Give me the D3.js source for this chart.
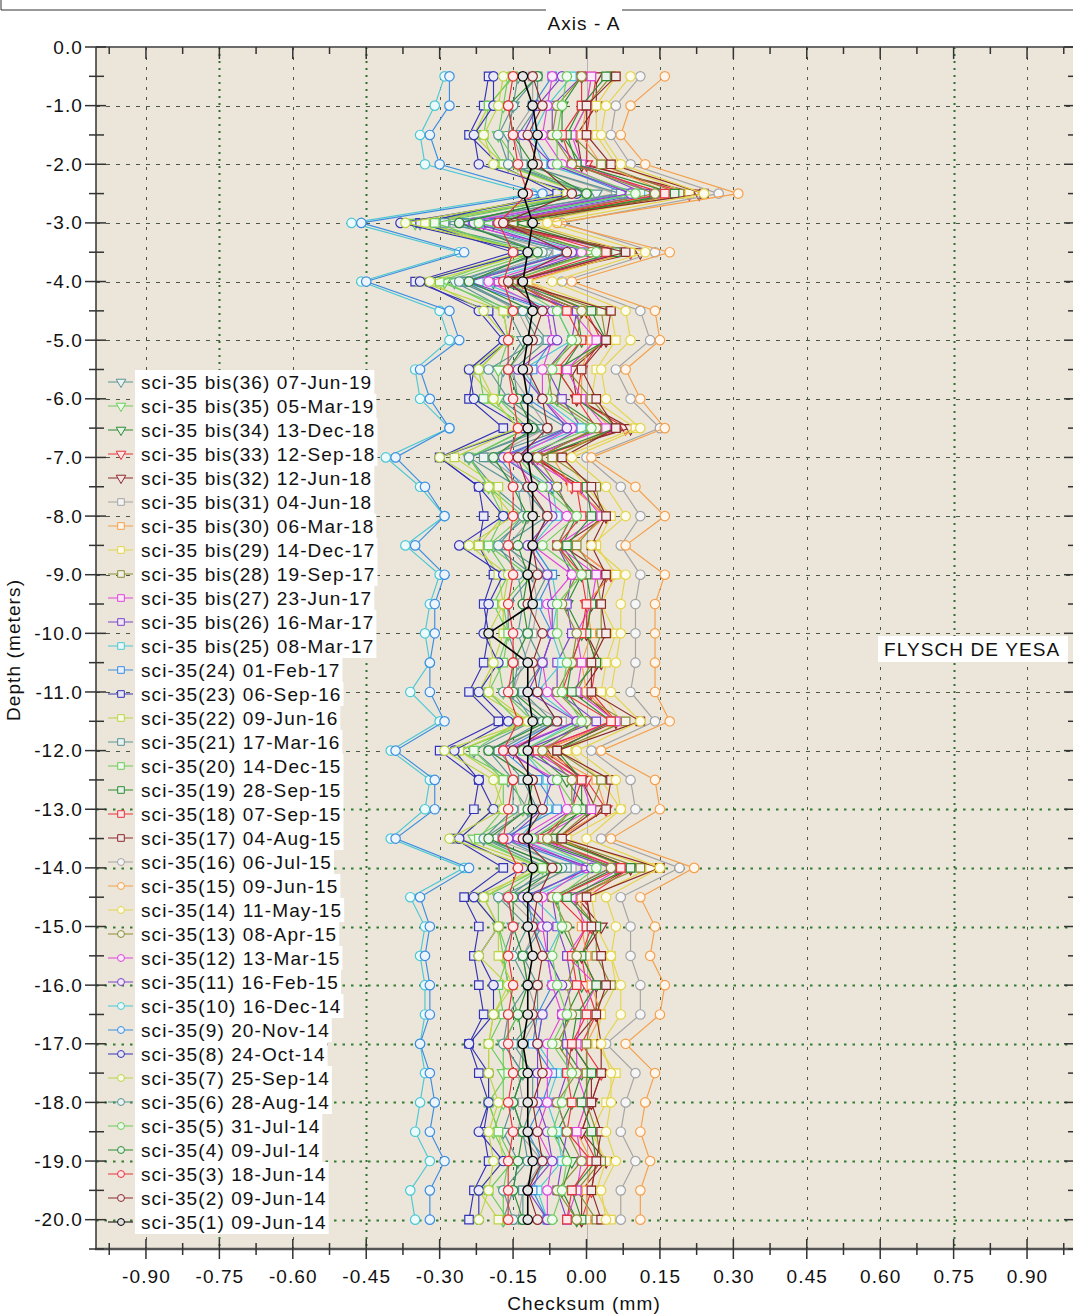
<!DOCTYPE html>
<html><head><meta charset="utf-8">
<script src="https://cdn.jsdelivr.net/npm/d3@7"></script>
<style>
body{margin:0;background:#fff;}
svg{display:block;font-family:"Liberation Sans",Arial,Helvetica,sans-serif;}
</style>
</head><body>
<svg id="chart" width="1073" height="1315"></svg>
<script>
// ---------------- DATA ----------------
const depths = [-0.5,-1,-1.5,-2,-2.5,-3,-3.5,-4,-4.5,-5,-5.5,-6,-6.5,-7,-7.5,-8,-8.5,-9,-9.5,-10,-10.5,-11,-11.5,-12,-12.5,-13,-13.5,-14,-14.5,-15,-15.5,-16,-16.5,-17,-17.5,-18,-18.5,-19,-19.5,-20];

const seriesLabels = ["sci-35(1) 09-Jun-14","sci-35(2) 09-Jun-14","sci-35(3) 18-Jun-14","sci-35(4) 09-Jul-14","sci-35(5) 31-Jul-14","sci-35(6) 28-Aug-14","sci-35(7) 25-Sep-14","sci-35(8) 24-Oct-14","sci-35(9) 20-Nov-14","sci-35(10) 16-Dec-14","sci-35(11) 16-Feb-15","sci-35(12) 13-Mar-15","sci-35(13) 08-Apr-15","sci-35(14) 11-May-15","sci-35(15) 09-Jun-15","sci-35(16) 06-Jul-15","sci-35(17) 04-Aug-15","sci-35(18) 07-Sep-15","sci-35(19) 28-Sep-15","sci-35(20) 14-Dec-15","sci-35(21) 17-Mar-16","sci-35(22) 09-Jun-16","sci-35(23) 06-Sep-16","sci-35(24) 01-Feb-17","sci-35 bis(25) 08-Mar-17","sci-35 bis(26) 16-Mar-17","sci-35 bis(27) 23-Jun-17","sci-35 bis(28) 19-Sep-17","sci-35 bis(29) 14-Dec-17","sci-35 bis(30) 06-Mar-18","sci-35 bis(31) 04-Jun-18","sci-35 bis(32) 12-Jun-18","sci-35 bis(33) 12-Sep-18","sci-35 bis(34) 13-Dec-18","sci-35 bis(35) 05-Mar-19","sci-35 bis(36) 07-Jun-19"];

const xTickValues = [-0.90,-0.75,-0.60,-0.45,-0.30,-0.15,0.00,0.15,0.30,0.45,0.60,0.75,0.90];
const xMinorTickValues = [-0.975,-0.825,-0.675,-0.525,-0.375,-0.225,-0.075,0.075,0.225,0.375,0.525,0.675,0.825,0.975];
const yTickValues = [0,-1,-2,-3,-4,-5,-6,-7,-8,-9,-10,-11,-12,-13,-14,-15,-16,-17,-18,-19,-20];
const yMinorTickValues = [-0.5,-1.5,-2.5,-3.5,-4.5,-5.5,-6.5,-7.5,-8.5,-9.5,-10.5,-11.5,-12.5,-13.5,-14.5,-15.5,-16.5,-17.5,-18.5,-19.5,-20.5];

const s01 = [-0.13,-0.11,-0.10,-0.11,-0.13,-0.11,-0.12,-0.13,-0.11,-0.12,-0.13,-0.12,-0.12,-0.12,-0.11,-0.11,-0.11,-0.12,-0.11,-0.20,-0.12,-0.12,-0.11,-0.12,-0.12,-0.11,-0.12,-0.11,-0.12,-0.12,-0.11,-0.12,-0.12,-0.13,-0.12,-0.12,-0.12,-0.11,-0.12,-0.12];
const s02 = [-0.11,-0.09,-0.12,-0.10,-0.03,-0.17,-0.04,-0.16,-0.09,-0.11,-0.12,-0.09,-0.08,-0.14,-0.12,-0.08,-0.11,-0.10,-0.12,-0.09,-0.11,-0.10,-0.06,-0.15,-0.11,-0.09,-0.13,-0.07,-0.10,-0.11,-0.09,-0.10,-0.11,-0.10,-0.09,-0.11,-0.10,-0.09,-0.12,-0.10];
const s03 = [-0.15,-0.16,-0.15,-0.14,-0.12,-0.18,-0.15,-0.17,-0.15,-0.16,-0.16,-0.15,-0.14,-0.16,-0.15,-0.15,-0.16,-0.15,-0.16,-0.15,-0.15,-0.16,-0.14,-0.17,-0.15,-0.16,-0.17,-0.14,-0.16,-0.15,-0.16,-0.15,-0.16,-0.16,-0.15,-0.16,-0.15,-0.16,-0.16,-0.16];
const s04 = [-0.10,-0.16,-0.15,-0.11,0.00,-0.26,-0.10,-0.24,-0.11,-0.12,-0.16,-0.14,-0.11,-0.19,-0.15,-0.12,-0.14,-0.12,-0.13,-0.12,-0.15,-0.15,-0.08,-0.20,-0.11,-0.12,-0.20,-0.06,-0.15,-0.15,-0.13,-0.12,-0.14,-0.13,-0.13,-0.15,-0.13,-0.14,-0.15,-0.13];
const s05 = [-0.04,-0.05,-0.06,-0.06,0.10,-0.22,0.02,-0.16,-0.06,-0.03,-0.07,-0.08,0.01,-0.14,-0.09,-0.02,-0.09,-0.01,-0.06,-0.06,-0.04,-0.05,-0.01,-0.13,-0.06,-0.02,-0.11,0.02,-0.06,-0.05,-0.07,-0.06,-0.04,-0.07,-0.03,-0.05,-0.07,-0.04,-0.05,-0.07];
const s06 = [-0.10,-0.15,-0.18,-0.16,0.00,-0.26,-0.09,-0.26,-0.13,-0.10,-0.20,-0.16,-0.08,-0.24,-0.14,-0.13,-0.18,-0.14,-0.13,-0.14,-0.12,-0.17,-0.09,-0.20,-0.15,-0.15,-0.21,-0.05,-0.18,-0.12,-0.15,-0.12,-0.16,-0.17,-0.13,-0.15,-0.13,-0.12,-0.17,-0.15];
const s07 = [-0.17,-0.18,-0.21,-0.19,-0.04,-0.37,-0.11,-0.32,-0.21,-0.16,-0.22,-0.19,-0.14,-0.30,-0.20,-0.15,-0.24,-0.16,-0.17,-0.20,-0.19,-0.20,-0.12,-0.29,-0.19,-0.17,-0.28,-0.11,-0.21,-0.18,-0.22,-0.16,-0.19,-0.20,-0.20,-0.18,-0.20,-0.19,-0.20,-0.22];
const s08 = [-0.19,-0.19,-0.23,-0.22,-0.02,-0.38,-0.12,-0.34,-0.22,-0.17,-0.24,-0.23,-0.13,-0.30,-0.22,-0.17,-0.26,-0.17,-0.20,-0.21,-0.18,-0.22,-0.16,-0.27,-0.22,-0.19,-0.26,-0.13,-0.23,-0.18,-0.22,-0.19,-0.19,-0.24,-0.20,-0.20,-0.22,-0.17,-0.22,-0.22];
const s09 = [-0.28,-0.28,-0.32,-0.30,-0.09,-0.46,-0.25,-0.45,-0.28,-0.26,-0.34,-0.32,-0.28,-0.39,-0.33,-0.29,-0.35,-0.29,-0.31,-0.31,-0.32,-0.32,-0.29,-0.39,-0.31,-0.31,-0.39,-0.24,-0.34,-0.32,-0.33,-0.32,-0.32,-0.34,-0.32,-0.31,-0.32,-0.29,-0.32,-0.32];
const s10 = [-0.29,-0.31,-0.34,-0.33,-0.11,-0.48,-0.26,-0.46,-0.30,-0.28,-0.35,-0.34,-0.28,-0.41,-0.34,-0.29,-0.37,-0.30,-0.32,-0.33,-0.32,-0.36,-0.30,-0.40,-0.32,-0.33,-0.40,-0.25,-0.36,-0.33,-0.34,-0.33,-0.33,-0.34,-0.33,-0.34,-0.35,-0.32,-0.36,-0.35];
const s11 = [-0.05,-0.10,-0.13,-0.07,0.09,-0.23,-0.03,-0.24,-0.07,-0.06,-0.14,-0.09,-0.04,-0.17,-0.08,-0.07,-0.12,-0.08,-0.07,-0.07,-0.09,-0.12,-0.02,-0.16,-0.07,-0.09,-0.16,0.01,-0.13,-0.08,-0.08,-0.05,-0.09,-0.10,-0.10,-0.10,-0.08,-0.07,-0.12,-0.08];
const s12 = [-0.07,-0.08,-0.09,-0.05,0.09,-0.26,-0.01,-0.20,-0.08,-0.07,-0.09,-0.09,-0.03,-0.15,-0.11,-0.04,-0.11,-0.03,-0.08,-0.07,-0.09,-0.08,-0.02,-0.17,-0.06,-0.04,-0.14,0.00,-0.09,-0.09,-0.08,-0.07,-0.05,-0.08,-0.08,-0.08,-0.10,-0.07,-0.08,-0.08];
const s13 = [-0.01,-0.06,-0.07,-0.03,0.14,-0.17,0.01,-0.16,-0.01,-0.02,-0.08,-0.07,0.02,-0.10,-0.06,-0.03,-0.06,-0.02,-0.05,-0.02,-0.03,-0.06,0.00,-0.09,-0.03,-0.03,-0.08,0.05,-0.07,-0.04,-0.02,-0.04,-0.03,-0.06,-0.02,-0.06,-0.04,-0.01,-0.06,-0.02];
const s14 = [0.09,0.04,0.03,0.07,0.24,-0.08,0.12,-0.07,0.08,0.09,0.03,0.04,0.11,-0.03,0.04,0.08,0.01,0.08,0.07,0.07,0.06,0.05,0.11,-0.02,0.06,0.07,0.00,0.15,0.04,0.06,0.05,0.07,0.07,0.03,0.05,0.05,0.04,0.06,0.03,0.04];
const s15 = [0.16,0.09,0.07,0.12,0.31,-0.06,0.17,-0.03,0.14,0.15,0.08,0.11,0.16,0.01,0.10,0.16,0.08,0.16,0.14,0.14,0.14,0.14,0.17,0.03,0.14,0.15,0.05,0.22,0.11,0.14,0.13,0.16,0.15,0.08,0.14,0.12,0.11,0.13,0.11,0.11];
const s16 = [0.11,0.06,0.05,0.09,0.27,-0.05,0.14,-0.05,0.11,0.13,0.06,0.09,0.15,0.00,0.07,0.11,0.07,0.11,0.10,0.10,0.10,0.09,0.14,0.01,0.09,0.10,0.03,0.19,0.07,0.09,0.09,0.11,0.11,0.04,0.10,0.08,0.07,0.10,0.07,0.07];
const s17 = [0.06,0.00,0.00,0.05,0.24,-0.18,0.08,-0.15,0.05,0.04,-0.01,0.02,0.06,-0.05,0.01,0.04,0.01,0.04,0.03,0.04,0.01,0.01,0.11,-0.06,0.05,0.04,-0.05,0.15,0.00,0.01,0.03,0.04,0.02,0.03,0.03,0.01,0.03,0.02,0.01,0.03];
const s18 = [-0.01,-0.01,-0.05,-0.03,0.16,-0.17,0.04,-0.15,-0.04,-0.01,-0.06,-0.02,0.02,-0.10,-0.02,-0.01,-0.06,-0.01,0.00,-0.01,-0.03,-0.05,0.05,-0.10,-0.01,-0.03,-0.09,0.07,-0.06,0.00,-0.03,-0.02,0.00,-0.03,-0.04,-0.03,-0.04,0.01,-0.03,-0.04];
const s19 = [0.04,-0.01,-0.04,-0.02,0.18,-0.15,0.06,-0.15,0.01,0.04,-0.06,-0.02,0.06,-0.10,0.00,0.01,-0.04,0.00,0.01,0.00,0.02,-0.03,0.05,-0.06,-0.01,-0.01,-0.07,0.09,-0.04,0.02,-0.01,0.02,-0.02,-0.03,0.01,-0.01,0.01,0.02,-0.03,-0.01];
const s20 = [-0.15,-0.20,-0.21,-0.17,0.00,-0.31,-0.13,-0.30,-0.15,-0.16,-0.22,-0.21,-0.12,-0.24,-0.20,-0.17,-0.20,-0.16,-0.19,-0.16,-0.17,-0.20,-0.14,-0.23,-0.17,-0.17,-0.22,-0.09,-0.21,-0.18,-0.16,-0.18,-0.17,-0.20,-0.16,-0.20,-0.18,-0.15,-0.20,-0.16];
const s21 = [-0.10,-0.10,-0.14,-0.13,0.07,-0.29,-0.03,-0.25,-0.13,-0.08,-0.15,-0.14,-0.04,-0.21,-0.13,-0.08,-0.17,-0.08,-0.11,-0.12,-0.09,-0.13,-0.07,-0.18,-0.13,-0.10,-0.17,-0.04,-0.14,-0.09,-0.13,-0.10,-0.10,-0.15,-0.11,-0.11,-0.13,-0.08,-0.13,-0.13];
const s22 = [-0.15,-0.20,-0.23,-0.17,-0.01,-0.33,-0.13,-0.34,-0.17,-0.16,-0.24,-0.19,-0.14,-0.27,-0.18,-0.17,-0.22,-0.18,-0.17,-0.17,-0.19,-0.22,-0.12,-0.26,-0.17,-0.19,-0.26,-0.09,-0.23,-0.18,-0.18,-0.15,-0.19,-0.20,-0.20,-0.20,-0.18,-0.17,-0.22,-0.18];
const s23 = [-0.20,-0.21,-0.24,-0.18,-0.06,-0.34,-0.15,-0.35,-0.20,-0.16,-0.23,-0.24,-0.17,-0.30,-0.22,-0.21,-0.22,-0.19,-0.21,-0.20,-0.21,-0.24,-0.18,-0.30,-0.22,-0.23,-0.27,-0.17,-0.25,-0.22,-0.23,-0.22,-0.21,-0.24,-0.22,-0.20,-0.21,-0.20,-0.23,-0.24];
const s24 = [-0.07,-0.11,-0.11,-0.07,0.08,-0.25,-0.04,-0.25,-0.08,-0.07,-0.11,-0.12,-0.03,-0.18,-0.13,-0.08,-0.11,-0.07,-0.10,-0.07,-0.09,-0.10,-0.06,-0.17,-0.10,-0.06,-0.17,0.00,-0.12,-0.11,-0.08,-0.07,-0.10,-0.11,-0.07,-0.09,-0.12,-0.09,-0.11,-0.08];
const s25 = [-0.03,-0.08,-0.11,-0.09,0.11,-0.22,-0.01,-0.22,-0.06,-0.03,-0.13,-0.09,-0.01,-0.17,-0.07,-0.06,-0.11,-0.07,-0.06,-0.07,-0.05,-0.10,-0.02,-0.13,-0.08,-0.08,-0.14,0.02,-0.11,-0.05,-0.08,-0.05,-0.09,-0.10,-0.06,-0.08,-0.06,-0.05,-0.10,-0.08];
const s26 = [-0.01,-0.07,-0.07,-0.02,0.12,-0.20,0.00,-0.18,-0.02,-0.03,-0.08,-0.05,-0.01,-0.12,-0.06,-0.03,-0.06,-0.03,-0.04,-0.03,-0.06,-0.06,0.02,-0.13,-0.02,-0.03,-0.12,0.05,-0.07,-0.06,-0.04,-0.03,-0.05,-0.04,-0.04,-0.06,-0.04,-0.05,-0.06,-0.04];
const s27 = [0.01,0.00,-0.03,-0.01,0.14,-0.19,0.07,-0.14,-0.03,0.02,-0.04,-0.01,0.04,-0.12,-0.02,0.03,-0.06,0.02,0.01,-0.02,-0.01,-0.02,0.06,-0.11,-0.01,0.01,-0.10,0.07,-0.03,0.00,-0.04,0.02,-0.01,-0.02,-0.02,0.00,-0.02,-0.01,-0.02,-0.04];
const s28 = [0.05,0.00,-0.03,0.03,0.19,-0.13,0.07,-0.14,0.03,0.04,-0.04,0.01,0.06,-0.07,0.02,0.03,-0.02,0.02,0.03,0.03,0.01,-0.02,0.08,-0.06,0.03,0.01,-0.06,0.11,-0.03,0.02,0.02,0.05,0.01,0.00,0.00,0.00,0.02,0.03,-0.02,0.02];
const s29 = [0.06,0.02,0.02,0.06,0.21,-0.12,0.09,-0.12,0.05,0.06,0.02,0.01,0.10,-0.05,0.00,0.05,0.02,0.06,0.03,0.06,0.04,0.03,0.07,-0.04,0.03,0.07,-0.04,0.13,0.01,0.02,0.05,0.06,0.03,0.02,0.06,0.04,0.01,0.04,0.02,0.05];
const s30 = [0.01,0.00,-0.01,0.03,0.17,-0.18,0.07,-0.12,0.00,0.01,-0.01,-0.01,0.05,-0.07,-0.03,0.04,-0.03,0.05,0.00,0.01,-0.01,0.00,0.06,-0.09,0.02,0.04,-0.06,0.08,-0.01,-0.01,0.00,0.01,0.03,0.00,0.00,0.00,-0.02,0.01,0.00,0.00];
const s31 = [-0.11,-0.11,-0.15,-0.13,0.06,-0.27,-0.06,-0.25,-0.14,-0.11,-0.16,-0.12,-0.08,-0.20,-0.12,-0.11,-0.16,-0.11,-0.10,-0.11,-0.13,-0.15,-0.05,-0.20,-0.11,-0.13,-0.19,-0.03,-0.16,-0.10,-0.13,-0.12,-0.10,-0.13,-0.14,-0.13,-0.14,-0.09,-0.13,-0.14];
const s32 = [0.02,0.02,-0.02,-0.01,0.23,-0.21,0.11,-0.16,-0.01,0.04,-0.03,-0.02,0.09,-0.11,-0.01,0.04,-0.05,0.04,0.01,0.00,0.03,-0.01,0.06,-0.07,-0.01,0.02,-0.06,0.09,-0.02,0.03,-0.01,0.02,0.02,-0.03,0.01,0.01,-0.01,0.04,-0.01,-0.01];
const s33 = [0.02,0.01,0.00,0.00,0.21,-0.22,0.09,-0.13,0.00,0.03,-0.01,-0.02,0.08,-0.10,-0.03,0.04,-0.03,0.05,0.00,0.00,0.02,0.01,0.06,-0.09,0.00,0.04,-0.06,0.09,0.00,0.01,-0.01,0.00,0.02,-0.01,0.03,0.01,-0.01,0.02,0.01,-0.01];
const s34 = [-0.01,-0.05,-0.05,-0.01,0.14,-0.19,0.02,-0.19,-0.02,-0.01,-0.05,-0.06,0.03,-0.12,-0.07,-0.02,-0.05,-0.01,-0.04,-0.01,-0.03,-0.04,0.00,-0.11,-0.04,0.00,-0.11,0.06,-0.06,-0.05,-0.02,-0.01,-0.04,-0.05,-0.01,-0.03,-0.06,-0.03,-0.05,-0.02];
const s35 = [-0.16,-0.17,-0.18,-0.14,0.00,-0.35,-0.10,-0.29,-0.17,-0.16,-0.18,-0.18,-0.12,-0.24,-0.20,-0.13,-0.20,-0.12,-0.17,-0.16,-0.18,-0.17,-0.11,-0.26,-0.15,-0.13,-0.23,-0.09,-0.18,-0.18,-0.17,-0.16,-0.14,-0.17,-0.17,-0.17,-0.19,-0.16,-0.17,-0.17];
const s36 = [-0.14,-0.15,-0.16,-0.16,0.02,-0.34,-0.08,-0.27,-0.16,-0.13,-0.17,-0.18,-0.09,-0.24,-0.19,-0.12,-0.19,-0.11,-0.16,-0.16,-0.14,-0.15,-0.11,-0.23,-0.16,-0.12,-0.21,-0.08,-0.16,-0.15,-0.17,-0.16,-0.14,-0.17,-0.13,-0.15,-0.17,-0.14,-0.15,-0.17];

const seriesValues = [s01,s02,s03,s04,s05,s06,s07,s08,s09,s10,s11,s12,s13,s14,s15,s16,s17,s18,s19,s20,s21,s22,s23,s24,s25,s26,s27,s28,s29,s30,s31,s32,s33,s34,s35,s36];

// ---------------- STYLE ----------------
const cycleColors = ["#8b2a2a","#e8323c","#2e8b34","#6ccc5c","#5a9494","#bcd444","#3434b4","#3c8ee0","#4cc8d4","#7c44c8","#e044dc","#8c8c34","#e4d44c","#f4a04c","#a4a4a4"];
function colorOf(i){ return i===0 ? "#000000" : cycleColors[(i-1)%15]; }
function shapeOf(i){ return i<16 ? "circle" : (i<31 ? "square" : "triangle"); }

const W = 1073, H = 1315;
const plotL = 96, plotR = 1073, plotT = 47, plotB = 1249;
const x = d3.scaleLinear().domain([-1.0, 1.0]).range([97, 1076]);
const y = d3.scaleLinear().domain([0, -20.5]).range([47, 1249]);
const fmt2 = d => d3.format(".2f")(d).replace("\u2212","-");
const fmt1 = d => d3.format(".1f")(d).replace("\u2212","-");
const FS = "19px", LS = "1.1px";

const svg = d3.select("#chart");
svg.append("rect").attr("width",W).attr("height",H).attr("fill","#ffffff");

// group frame + title
svg.append("path").attr("d","M1,0V10H546M622,10H1073").attr("fill","none").attr("stroke","#333").attr("stroke-width",1);
svg.append("text").attr("x",584).attr("y",30).attr("text-anchor","middle")
  .style("font-size",FS).style("letter-spacing",LS).attr("fill","#111").text("Axis - A");

// plot background
svg.append("rect").attr("x",plotL).attr("y",plotT).attr("width",plotR-plotL).attr("height",plotB-plotT).attr("fill","#ece6da");

// clip
svg.append("defs").append("clipPath").attr("id","plotclip").append("rect")
  .attr("x",plotL).attr("y",plotT).attr("width",plotR-plotL).attr("height",plotB-plotT);

// grid
const grid = svg.append("g").attr("clip-path","url(#plotclip)");
const greenX = v => Math.abs(v+0.75)<1e-6 || Math.abs(v+0.45)<1e-6 || Math.abs(v-0.75)<1e-6;
grid.selectAll("line.gx").data(xTickValues.filter(v=>Math.abs(v)>1e-9)).join("line")
  .attr("x1",d=>Math.round(x(d))+0.5).attr("x2",d=>Math.round(x(d))+0.5).attr("y1",plotT).attr("y2",plotB)
  .attr("stroke",d=>greenX(d)?"#2f6e2f":"#4a5646")
  .attr("stroke-width",d=>greenX(d)?2:1)
  .attr("stroke-dasharray",d=>greenX(d)?"2,5":"3,7");
grid.append("line").attr("x1",Math.round(x(0))+0.5).attr("x2",Math.round(x(0))+0.5).attr("y1",plotT).attr("y2",plotB)
  .attr("stroke","#b4b4b4").attr("stroke-width",1);
grid.selectAll("line.gy").data(yTickValues.filter(v=>v<0)).join("line")
  .attr("x1",plotL).attr("x2",plotR).attr("y1",d=>Math.round(y(d))+0.5).attr("y2",d=>Math.round(y(d))+0.5)
  .attr("stroke",d=>d<=-13?"#2f7a2f":"#4a5646")
  .attr("stroke-width",d=>d<=-13?2:1)
  .attr("stroke-dasharray",d=>d<=-13?"2.5,6":"4,6");

// series
const symGen = {
  circle: d3.symbol().type(d3.symbolCircle).size(70),
  square: d3.symbol().type(d3.symbolSquare).size(72),
  triangle: d3.symbol().type(d3.symbolTriangle).size(62)
};
const symLeg = {
  circle: d3.symbol().type(d3.symbolCircle).size(38),
  square: d3.symbol().type(d3.symbolSquare).size(44),
  triangle: d3.symbol().type(d3.symbolTriangle).size(40)
};
const line = d3.line().x(d=>x(d.v)).y(d=>y(d.d));
const dataG = svg.append("g").attr("clip-path","url(#plotclip)");
for (let i = seriesValues.length-1; i >= 0; i--) {
  const vals = seriesValues[i];
  if (vals.length !== depths.length) console.warn("length mismatch", i+1, vals.length);
  const pts = depths.map((d,k)=>({d:d, v:vals[k]})).filter(p=>p.v!==undefined);
  const col = colorOf(i), shp = shapeOf(i);
  const fillCol = d3.interpolateRgb(col, "#ffffff")(0.9);
  const g = dataG.append("g");
  g.append("path").datum(pts).attr("d",line).attr("fill","none").attr("stroke",col).attr("stroke-width", i===0 ? 1.6 : 1.15);
  g.selectAll("path.m").data(pts).join("path").attr("class","m")
    .attr("d",symGen[shp])
    .attr("transform",p=>`translate(${x(p.v)},${y(p.d)})` + (shp==="triangle"?" rotate(180)":""))
    .attr("fill",fillCol).attr("stroke",col).attr("stroke-width",1.2);
}

// axes lines
svg.append("line").attr("x1",plotL).attr("x2",plotR).attr("y1",plotT).attr("y2",plotT).attr("stroke","#6a6a6a").attr("stroke-width",2);
svg.append("line").attr("x1",plotL-1).attr("x2",plotR).attr("y1",plotB).attr("y2",plotB).attr("stroke","#555").attr("stroke-width",2.5);
svg.append("line").attr("x1",plotL).attr("x2",plotL).attr("y1",plotT).attr("y2",plotB).attr("stroke","#333").attr("stroke-width",1.5);

// ticks (top: inward; bottom: crossing; left: crossing; right: inward)
const tk = svg.append("g").attr("stroke","#333").attr("stroke-width",1.5);
tk.selectAll("line.tt").data(xTickValues).join("line").attr("x1",d=>x(d)).attr("x2",d=>x(d)).attr("y1",plotT).attr("y2",plotT+12);
tk.selectAll("line.tm").data(xMinorTickValues).join("line").attr("x1",d=>x(d)).attr("x2",d=>x(d)).attr("y1",plotT).attr("y2",plotT+7);
tk.selectAll("line.bt").data(xTickValues).join("line").attr("x1",d=>x(d)).attr("x2",d=>x(d)).attr("y1",plotB-10).attr("y2",plotB+10);
tk.selectAll("line.bm").data(xMinorTickValues).join("line").attr("x1",d=>x(d)).attr("x2",d=>x(d)).attr("y1",plotB-6).attr("y2",plotB+6);
tk.selectAll("line.lt").data(yTickValues).join("line").attr("x1",plotL-11).attr("x2",plotL+10).attr("y1",d=>y(d)).attr("y2",d=>y(d));
tk.selectAll("line.lm").data(yMinorTickValues).join("line").attr("x1",plotL-7).attr("x2",plotL+8).attr("y1",d=>y(d)).attr("y2",d=>y(d));
tk.selectAll("line.rt").data(yTickValues).join("line").attr("x1",plotR-9).attr("x2",plotR).attr("y1",d=>y(d)).attr("y2",d=>y(d));
tk.selectAll("line.rm").data(yMinorTickValues).join("line").attr("x1",plotR-5).attr("x2",plotR).attr("y1",d=>y(d)).attr("y2",d=>y(d));

// axis labels via d3 axes
const xAx = svg.append("g").attr("transform",`translate(0,${plotB})`)
  .call(d3.axisBottom(x).tickValues(xTickValues).tickFormat(fmt2).tickSize(0).tickPadding(21));
xAx.select(".domain").remove();
xAx.selectAll("text").style("font-size",FS).style("letter-spacing",LS).attr("fill","#111").style("font-family","'Liberation Sans',Arial,sans-serif");
const yAx = svg.append("g").attr("transform",`translate(${plotL},0)`)
  .call(d3.axisLeft(y).tickValues(yTickValues).tickFormat(fmt1).tickSize(0).tickPadding(13));
yAx.select(".domain").remove();
yAx.selectAll("text").style("font-size",FS).style("letter-spacing",LS).attr("fill","#111").style("font-family","'Liberation Sans',Arial,sans-serif");

// axis titles
svg.append("text").attr("x",584).attr("y",1310).attr("text-anchor","middle")
  .style("font-size",FS).style("letter-spacing",LS).attr("fill","#111").text("Checksum (mm)");
svg.append("text").attr("transform","translate(20,650) rotate(-90)").attr("text-anchor","middle")
  .style("font-size",FS).style("letter-spacing",LS).attr("fill","#111").text("Depth (meters)");

// legend
const leg = svg.append("g");
for (let i = seriesValues.length-1; i >= 0; i--) {
  const r = seriesValues.length-1-i;
  const ly = 382 + 24*r;
  const col = colorOf(i), shp = shapeOf(i);
  const row = leg.append("g");
  const bg = row.append("rect").attr("x",135).attr("y",ly-12).attr("height",24).attr("fill","#ffffff");
  const t = row.append("text").attr("x",141).attr("y",ly).attr("dy","0.35em")
    .style("font-size",FS).style("letter-spacing",LS).attr("fill","#111").text(seriesLabels[i]);
  bg.attr("width", t.node().getComputedTextLength()+8);
  row.append("line").attr("x1",108).attr("x2",133).attr("y1",ly).attr("y2",ly).attr("stroke",col).attr("stroke-width",1);
  row.append("path").attr("d",symLeg[shp]).attr("transform",`translate(121,${ly})`+(shp==="triangle"?" rotate(180)":""))
    .attr("fill",d3.interpolateRgb(col,"#ffffff")(0.88)).attr("stroke",col).attr("stroke-width",1);
}

// annotation
svg.append("rect").attr("x",878).attr("y",636).attr("width",190).attr("height",26).attr("fill","#ffffff");
svg.append("text").attr("x",884).attr("y",649).attr("dy","0.35em")
  .style("font-size",FS).style("letter-spacing",LS).attr("fill","#111").text("FLYSCH DE YESA");
</script>
</body></html>
